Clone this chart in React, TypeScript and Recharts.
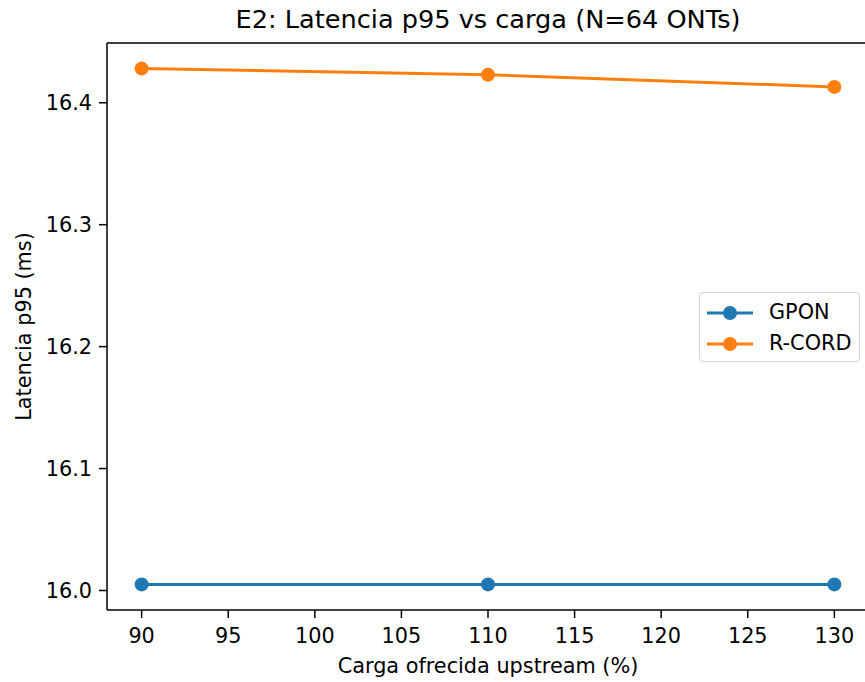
import React from "react";
import { LineChart, Line, XAxis, YAxis, ReferenceLine } from "recharts";

const cargas = [90, 110, 130];
const gpon = [16.005, 16.005, 16.005];
const rcord = [16.428, 16.423, 16.413];
const xTicks = [90, 95, 100, 105, 110, 115, 120, 125, 130];
const yTicks = [16.0, 16.1, 16.2, 16.3, 16.4];
const seriesNames = ["GPON", "R-CORD"];

const data = cargas.map((c, i) => ({ carga: c, GPON: gpon[i], "R-CORD": rcord[i] }));

const FONT = "'DejaVu Sans', sans-serif";
const FS = 20.8;
const BLUE = "#1f77b4";
const ORANGE = "#ff7f0e";
const colors = [BLUE, ORANGE];
const Y_DOMAIN: [number, number] = [15.984, 16.449];
const LW = 3;
const MR = 7;

const LegendBox = () => (
  <div
    style={{
      position: "absolute",
      left: 699,
      top: 292,
      width: 159,
      height: 68,
      border: "1px solid #d3d3d3",
      borderRadius: 4,
      background: "rgba(255,255,255,0.8)",
      fontFamily: FONT,
      fontSize: FS,
      color: "#000",
      boxSizing: "content-box",
    }}
  >
    {seriesNames.map((name, i) => (
      <div
        key={name}
        style={{ position: "absolute", left: 0, top: 4 + i * 31, height: 31, display: "flex", alignItems: "center" }}
      >
        <svg width={48} height={16} style={{ marginLeft: 6, marginRight: 15 }}>
          <line x1={1} y1={8} x2={47} y2={8} stroke={colors[i]} strokeWidth={LW} />
          <circle cx={24} cy={8} r={MR} fill={colors[i]} />
        </svg>
        <span style={{ lineHeight: "31px" }}>{name}</span>
      </div>
    ))}
  </div>
);

export default function App() {
  return (
    <div style={{ position: "absolute", left: 0, top: 0, width: 865, height: 682, overflow: "hidden", background: "#fff" }}>
      <div
        style={{
          position: "absolute",
          top: 5,
          left: 0,
          width: 976,
          textAlign: "center",
          fontFamily: FONT,
          fontSize: 25.6,
          lineHeight: 1.164,
          color: "#000",
          whiteSpace: "nowrap",
        }}
      >
        E2: Latencia p95 vs carga (N=64 ONTs)
      </div>
      <LineChart width={869} height={682} data={data} margin={{ top: 43, right: 0, bottom: 0, left: 0 }}>
        <XAxis
          dataKey="carga"
          type="number"
          domain={[88, 132]}
          ticks={xTicks}
          allowDataOverflow
          height={72}
          tickSize={8}
          tickMargin={10}
          stroke="#000"
          axisLine={{ stroke: "#000", strokeWidth: 1.5 }}
          tick={{ fill: "#000", fontSize: FS, fontFamily: FONT }}
          tickLine={{ stroke: "#000", strokeWidth: 1.5 }}
          label={{
            value: "Carga ofrecida upstream (%)",
            position: "insideBottom",
            offset: 9,
            fill: "#000",
            fontSize: FS,
            fontFamily: FONT,
          }}
        />
        <YAxis
          type="number"
          domain={Y_DOMAIN}
          ticks={yTicks}
          allowDataOverflow
          width={107}
          tickSize={8}
          tickMargin={7}
          stroke="#000"
          axisLine={{ stroke: "#000", strokeWidth: 1.5 }}
          tickFormatter={(v: number) => v.toFixed(1)}
          tick={{ fill: "#000", fontSize: FS, fontFamily: FONT }}
          tickLine={{ stroke: "#000", strokeWidth: 1.5 }}
          label={{
            value: "Latencia p95 (ms)",
            angle: -90,
            position: "insideLeft",
            offset: 24,
            style: { textAnchor: "middle" },
            fill: "#000",
            fontSize: FS,
            fontFamily: FONT,
          }}
        />
        <ReferenceLine y={Y_DOMAIN[1]} stroke="#000" strokeWidth={1.5} ifOverflow="visible" />
        <Line
          dataKey="GPON"
          stroke={BLUE}
          strokeWidth={LW}
          dot={{ r: MR, fill: BLUE, stroke: BLUE, strokeWidth: 0 }}
          isAnimationActive={false}
        />
        <Line
          dataKey="R-CORD"
          stroke={ORANGE}
          strokeWidth={LW}
          dot={{ r: MR, fill: ORANGE, stroke: ORANGE, strokeWidth: 0 }}
          isAnimationActive={false}
        />
      </LineChart>
      <LegendBox />
    </div>
  );
}
